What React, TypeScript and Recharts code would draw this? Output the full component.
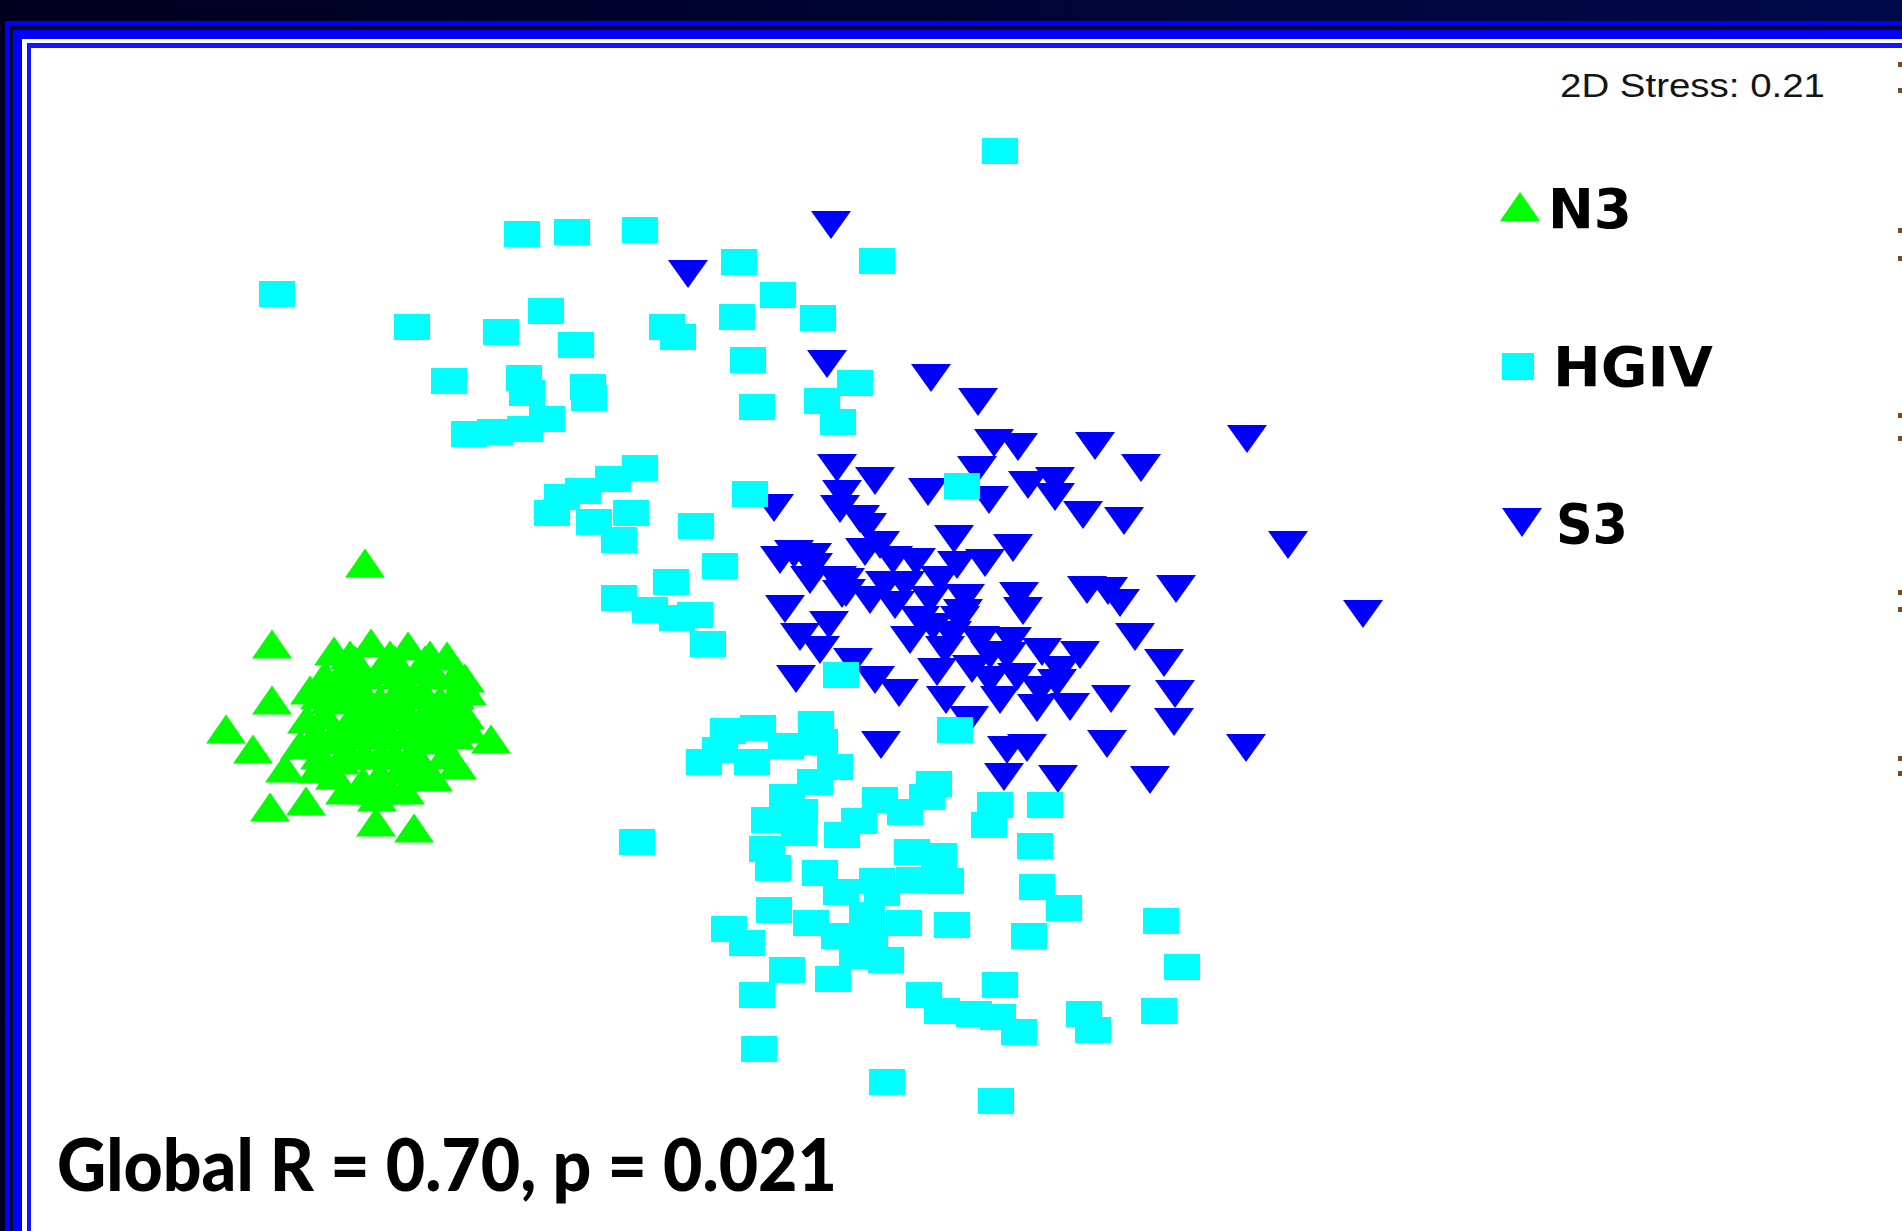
import React from 'react';
import { ScatterChart, Scatter, XAxis, YAxis, Legend } from 'recharts';

// NMDS ordination coordinates (arbitrary MDS units)
const n3Points: [number, number][] = [
  [-5.35, 0.77], [-6.28, -0.04], [-6.28, -0.6], [-6.74, -0.89], [-6.47, -1.09], [-6.3, -1.67],
  [-5.94, -1.61], [-5.24, -1.82], [-4.86, -1.88], [-4.09, -0.99], [-4.31, -0.89], [-4.43, -1.25],
  [-5.66, -0.11], [-5.29, -0.03], [-4.92, -0.06], [-4.53, -0.16], [-4.35, -0.38], [-4.33, -0.51],
  [-5.9, -0.5], [-5.93, -0.79], [-6.15, -1.28], [-5.83, -1.29], [-5.37, -1.41], [-5.23, -1.57],
  [-4.67, -1.37], [-4.8, -1.2], [-5.0, -1.3], [-5.6, -1.2], [-5.7, -1.0], [-5.5, -0.8],
  [-5.2, -0.6], [-4.9, -0.5], [-4.6, -0.6], [-4.5, -0.8], [-4.8, -0.8], [-5.1, -0.95],
  [-5.4, -0.95], [-5.7, -0.6], [-5.5, -0.4], [-5.2, -0.3], [-4.8, -0.3], [-4.6, -1.0],
  [-5.05, -1.15], [-5.35, -1.15], [-5.55, -1.5], [-4.95, -1.5], [-6.0, -1.05], [-4.4, -0.7],
  [-5.45, -0.2], [-5.05, -0.2], [-4.75, -0.2], [-5.75, -0.35], [-5.25, -0.8], [-4.95, -0.7],
  [-5.5, -0.15], [-5.1, -0.15], [-4.7, -0.15], [-5.6, -0.35], [-5.35, -0.35], [-5.0, -0.35],
  [-4.65, -0.35], [-4.45, -0.35], [-5.8, -0.55], [-5.55, -0.55], [-5.35, -0.55], [-5.05, -0.55],
  [-4.75, -0.55], [-4.45, -0.55], [-5.75, -0.75], [-5.4, -0.75], [-5.1, -0.75], [-4.65, -0.75],
  [-4.35, -0.75], [-5.85, -0.95], [-5.55, -0.95], [-5.25, -0.95], [-4.95, -0.95], [-4.75, -0.95],
  [-4.45, -0.95], [-5.8, -1.15], [-5.5, -1.15], [-5.2, -1.15], [-4.9, -1.15], [-4.55, -1.15],
  [-5.65, -1.35], [-5.2, -1.35], [-4.85, -1.35], [-5.35, -1.5], [-5.1, -1.5],
];

const hgivPoints: [number, number][] = [
  [1.0, 4.89], [-3.78, 4.06], [-3.28, 4.08], [-2.6, 4.1], [-1.61, 3.78], [-0.23, 3.79],
  [-6.23, 3.46], [-1.22, 3.45], [-4.88, 3.13], [-3.99, 3.08], [-3.54, 3.29], [-3.24, 2.95],
  [-2.33, 3.13], [-2.22, 3.03], [-1.63, 3.23], [-0.82, 3.22], [-4.51, 2.59], [-3.76, 2.62],
  [-3.73, 2.47], [-3.12, 2.53], [-3.11, 2.42], [-1.52, 2.8], [-0.45, 2.57], [-0.78, 2.39],
  [-0.62, 2.18], [-1.43, 2.33], [-3.53, 2.21], [-3.75, 2.11], [-4.05, 2.08], [-4.31, 2.06],
  [-2.6, 1.72], [-2.87, 1.61], [-3.17, 1.49], [-3.38, 1.43], [-3.48, 1.27], [-3.06, 1.18],
  [-2.69, 1.27], [-2.81, 1.0], [-2.04, 1.14], [-1.5, 1.46], [0.62, 1.54], [-1.8, 0.74],
  [-2.29, 0.58], [-2.81, 0.42], [-2.5, 0.3], [-2.23, 0.22], [-2.05, 0.25], [-1.92, -0.04],
  [-0.59, -0.35], [0.55, -0.9], [-1.72, -0.91], [-1.42, -0.88], [-1.8, -1.1], [-1.96, -1.22],
  [-1.48, -1.22], [-1.14, -1.06], [-0.84, -0.84], [-0.8, -1.02], [-0.65, -1.27], [-0.85, -1.42],
  [-1.13, -1.57], [-1.0, -1.72], [-1.31, -1.8], [-1.01, -1.93], [-1.33, -2.09], [-0.58, -1.95],
  [-0.41, -1.81], [-0.2, -1.6], [0.05, -1.72], [0.27, -1.57], [0.34, -1.44], [0.95, -1.65],
  [0.89, -1.85], [1.45, -1.65], [-2.63, -2.02], [-1.27, -2.28], [-0.8, -2.33], [-0.59, -2.52],
  [-0.23, -2.41], [-0.18, -2.53], [0.12, -2.12], [0.39, -2.16], [0.14, -2.4], [0.46, -2.41],
  [1.35, -2.06], [1.37, -2.47], [1.64, -2.68], [-0.33, -2.75], [0.04, -2.83], [0.52, -2.85],
  [-0.89, -2.83], [-0.61, -2.96], [-0.3, -3.01], [-0.43, -3.16], [-0.14, -3.2], [-1.26, -2.7],
  [-1.71, -2.89], [-1.53, -3.03], [-1.13, -3.3], [-1.43, -3.55], [-0.67, -3.39], [0.24, -3.55],
  [0.42, -3.71], [0.74, -3.74], [0.98, -3.77], [1.19, -3.92], [1.0, -3.45], [-1.41, -4.09],
  [-0.13, -4.42], [0.96, -4.61], [1.29, -2.96], [2.61, -2.81], [2.82, -3.27], [2.59, -3.71],
  [1.84, -3.74], [1.93, -3.9],
];

const s3Points: [number, number][] = [
  [-2.12, 3.66], [-0.69, 4.15], [-0.73, 2.76], [0.31, 2.62], [0.78, 2.38], [0.94, 1.97],
  [1.18, 1.93], [1.95, 1.94], [-0.63, 1.72], [0.77, 1.7], [2.41, 1.72], [-0.25, 1.59],
  [0.28, 1.48], [0.89, 1.4], [1.28, 1.55], [1.55, 1.59], [1.55, 1.43], [1.83, 1.25],
  [2.24, 1.19], [-1.26, 1.32], [-0.58, 1.46], [-0.6, 1.31], [-0.4, 1.21], [-0.33, 1.13],
  [0.54, 1.01], [1.13, 0.92], [-0.35, 0.88], [-0.07, 0.8], [0.16, 0.78], [0.57, 0.75],
  [0.85, 0.77], [-1.2, 0.8], [-1.06, 0.86], [-0.88, 0.83], [-0.9, 0.6], [-0.55, 0.58],
  [-0.58, 0.46], [0.65, 0.42], [0.63, 0.27], [1.19, 0.44], [1.23, 0.29], [1.87, 0.5],
  [2.08, 0.49], [2.2, 0.37], [-1.15, 0.31], [-0.71, 0.15], [-1.0, 0.03], [-0.8, -0.1],
  [-0.05, 0.35], [0.1, 0.0], [0.33, 0.13], [0.52, 0.05], [0.37, -0.32], [0.72, -0.29],
  [0.46, -0.6], [0.69, -0.8], [1.12, -0.01], [1.07, -0.16], [1.42, -0.12], [1.8, -0.15],
  [1.17, -0.37], [1.37, -0.68], [1.57, -0.43], [1.7, -0.67], [2.11, -0.59], [2.35, 0.03],
  [-1.04, -0.39], [-0.25, -0.4], [-0.01, -0.53], [-0.47, -0.22], [-0.19, -1.05], [1.07, -1.1],
  [1.27, -1.08], [1.04, -1.37], [1.58, -1.39], [2.07, -1.04], [2.5, -1.4], [3.47, 2.01],
  [3.88, 0.95], [2.76, 0.51], [4.63, 0.26], [2.64, -0.23], [2.75, -0.54], [2.74, -0.82],
  [3.46, -1.08], [-0.87, 0.73], [-0.63, 0.6], [-0.54, 0.47],
  [-0.2, 0.95], [0.05, 0.55], [0.3, 0.4], [0.2, 0.2], [0.4, 0.6], [-0.3, 0.4],
  [0.8, 0.0], [0.9, -0.4], [1.4, -0.5], [1.0, -0.6], [1.6, -0.3], [0.6, 0.2],
  [0.45, -0.1], [0.9, -0.15], [-0.15, 0.55],
];

const seriesNames = ['N3', 'HGIV', 'S3'];
const seriesColors = ['#00ff00', '#00ffff', '#0000ff'];
const stressLabel = '2D Stress: 0.21';
const statsLabel = 'Global R = 0.70, p = 0.021';

const toRows = (pts: [number, number][]) => pts.map(([x, y]) => ({ x, y }));
const n3Data = toRows(n3Points);
const hgivData = toRows(hgivPoints);
const s3Data = toRows(s3Points);

const UpTriangle = (props: any) => {
  const { cx, cy } = props;
  if (cx == null || cy == null) return <g />;
  return (
    <polygon
      points={`${cx - 20},${cy + 14.5} ${cx + 20},${cy + 14.5} ${cx},${cy - 14.5}`}
      fill={seriesColors[0]}
    />
  );
};

const Square = (props: any) => {
  const { cx, cy } = props;
  if (cx == null || cy == null) return <g />;
  return <rect x={cx - 18} y={cy - 13} width={36} height={26} fill={seriesColors[1]} />;
};

const DownTriangle = (props: any) => {
  const { cx, cy } = props;
  if (cx == null || cy == null) return <g />;
  return (
    <polygon
      points={`${cx - 20},${cy - 14} ${cx + 20},${cy - 14} ${cx},${cy + 14}`}
      fill={seriesColors[2]}
    />
  );
};

const legendFont = { fontFamily: '"DejaVu Sans", Verdana, sans-serif', fontWeight: 700, fontSize: 56 };

const LegendContent = () => (
  <svg width={280} height={400} style={{ display: 'block' }}>
    <polygon points={`20,51 60,51 40,22`} fill={seriesColors[0]} />
    <text x={68} y={58} {...legendFont} fill="#000" textLength={84} lengthAdjust="spacingAndGlyphs">
      {seriesNames[0]}
    </text>
    <rect x={22} y={183} width={32} height={27} fill={seriesColors[1]} />
    <text x={73} y={216} {...legendFont} fill="#000" textLength={160} lengthAdjust="spacingAndGlyphs">
      {seriesNames[1]}
    </text>
    <polygon points={`22,338 62,338 42,367`} fill={seriesColors[2]} />
    <text x={76} y={373} {...legendFont} fill="#000" textLength={72} lengthAdjust="spacingAndGlyphs">
      {seriesNames[2]}
    </text>
  </svg>
);

const edgeDots = [62, 88, 228, 256, 413, 436, 590, 607, 756, 771];

export default function App() {
  return (
    <div
      style={{
        position: 'absolute',
        left: 0,
        top: 0,
        width: 1902,
        height: 1231,
        overflow: 'hidden',
        background: 'linear-gradient(90deg, #00001e, #000848)',
      }}
    >
      <div style={{ position: 'absolute', left: 5, top: 21, right: 0, bottom: 0, background: '#0000ff' }} />
      <div style={{ position: 'absolute', left: 9, top: 25, right: 0, bottom: 0, background: '#00062e' }} />
      <div style={{ position: 'absolute', left: 13, top: 30, right: 0, bottom: 0, background: '#0000ff' }} />
      <div style={{ position: 'absolute', left: 22, top: 39, right: 0, bottom: 0, background: '#ffffff' }} />
      <div style={{ position: 'absolute', left: 27, top: 43, right: 0, bottom: 0, background: '#1414ff' }} />
      <div style={{ position: 'absolute', left: 31, top: 48, right: 0, bottom: 0, background: '#ffffff' }} />

      <div style={{ position: 'absolute', left: 0, top: 0 }}>
        <ScatterChart width={1902} height={1231} margin={{ top: 0, right: 0, bottom: 0, left: 0 }}>
          <XAxis type="number" dataKey="x" domain={[-9, 10.02]} allowDataOverflow hide />
          <YAxis type="number" dataKey="y" domain={[-5.91, 6.4]} allowDataOverflow hide />
          <Legend
            layout="horizontal"
            verticalAlign="middle"
            align="center"
            wrapperStyle={{ position: 'absolute', left: 1480, top: 170, width: 280, height: 400 }}
            content={LegendContent}
          />
          <Scatter name={seriesNames[0]} data={n3Data} fill={seriesColors[0]} shape={UpTriangle} isAnimationActive={false} />
          <Scatter name={seriesNames[2]} data={s3Data} fill={seriesColors[2]} shape={DownTriangle} isAnimationActive={false} />
          <Scatter name={seriesNames[1]} data={hgivData} fill={seriesColors[1]} shape={Square} isAnimationActive={false} />
        </ScatterChart>
      </div>

      <svg
        width={1902}
        height={1231}
        style={{ position: 'absolute', left: 0, top: 0, pointerEvents: 'none' }}
      >
        <text
          x={1560}
          y={97}
          fontFamily='"Liberation Sans", Arial, sans-serif'
          fontSize={33}
          fill="#141414"
          textLength={265}
          lengthAdjust="spacingAndGlyphs"
        >
          {stressLabel}
        </text>
        <text
          x={57}
          y={1191}
          fontFamily='Lato, "Open Sans", sans-serif'
          fontWeight={900}
          fontSize={72}
          fill="#000"
          textLength={780}
          lengthAdjust="spacingAndGlyphs"
        >
          {statsLabel}
        </text>
        {edgeDots.map((y, i) => (
          <rect key={i} x={1898} y={y} width={4} height={5} fill="#7a4a1a" />
        ))}
      </svg>
    </div>
  );
}
